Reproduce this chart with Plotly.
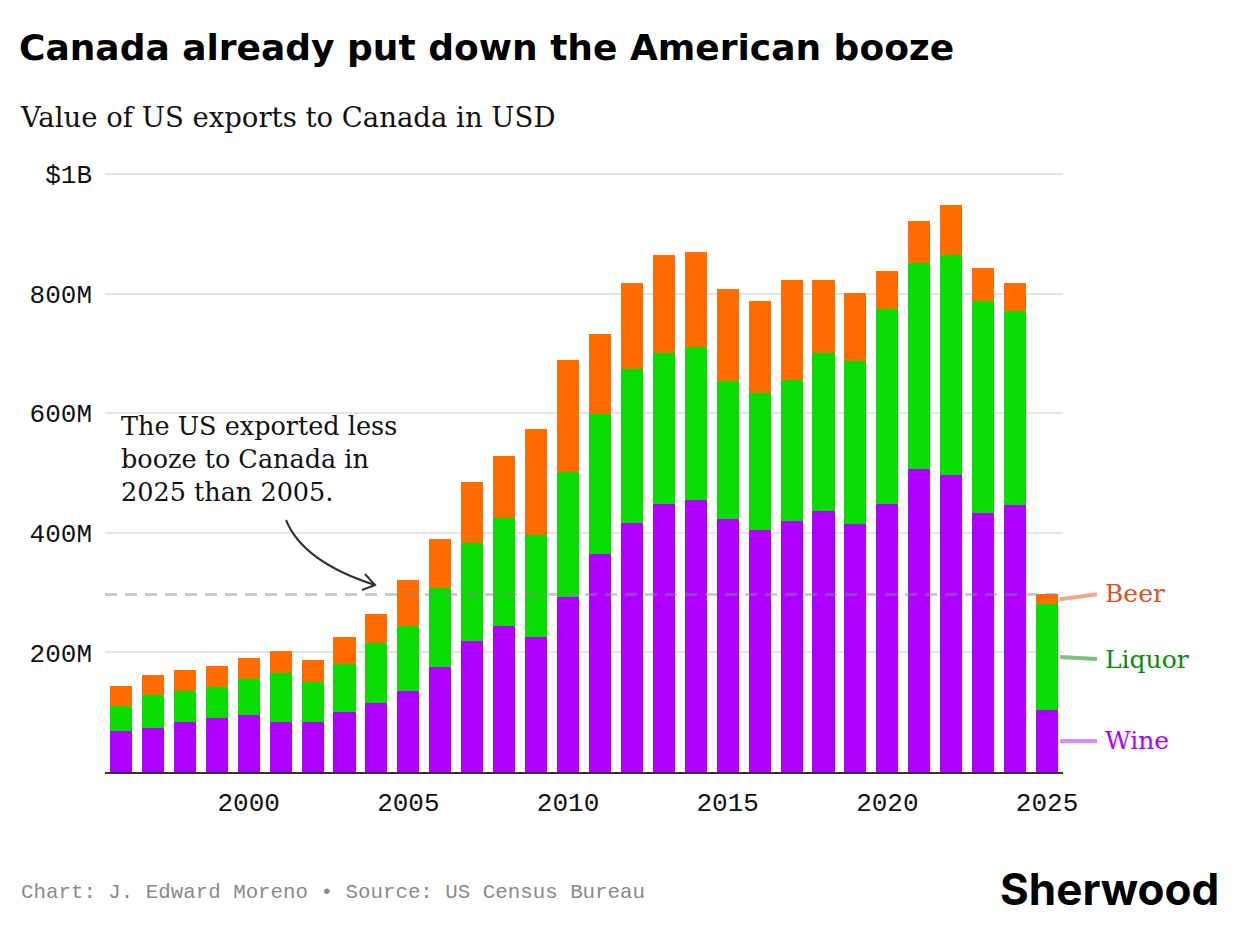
import plotly.graph_objects as go

# Values, in millions of USD
years = list(range(1996, 2026))
wine = [68, 73, 84, 90, 95, 84, 83, 101, 115, 135, 175, 219, 244, 225, 292,
        365, 416, 449, 455, 423, 405, 420, 436, 415, 449, 507, 497, 433, 446, 104]
liquor = [43, 55, 51, 52, 60, 81, 67, 79, 100, 109, 132, 164, 181, 171, 210,
          234, 258, 252, 255, 231, 228, 236, 265, 273, 326, 345, 368, 354, 325, 177]
beer = [32, 35, 35, 36, 35, 37, 38, 45, 49, 77, 82, 102, 104, 178, 187,
        134, 144, 164, 160, 154, 155, 167, 122, 113, 63, 70, 84, 55, 47, 16]

y_ticks = [200, 400, 600, 800, 1000]
y_labels = ['200M', '400M', '600M', '800M', '$1B']
x_ticks = [2000, 2005, 2010, 2015, 2020, 2025]

purple = '#ad00ff'
green = '#08dc00'
orange = '#ff6d00'

# page body has an 8px margin, so the figure is drawn 8px in from the window corner
O = 8
W, H = 1240 - O, 928 - O
# plot box in window pixels
L, R, T, B = 105, 1063, 160, 772
X0, X1 = 1995.5, 2025.5
Y0 = 0
Y1 = 1000 * (B - T) / (B - 174)   # $1B gridline sits at y=174

mono = 'Liberation Mono'
serif = 'DejaVu Serif'


def dx(px):
    return X0 + (px - L) / (R - L) * (X1 - X0)


def dy(py):
    return Y0 + (B - py) / (B - T) * (Y1 - Y0)


def paper_x(px):
    return (px - L) / (R - L)


def paper_y(py):
    return (B - py) / (B - T)


fig = go.Figure()
for name, vals, col in [('Wine', wine, purple), ('Liquor', liquor, green), ('Beer', beer, orange)]:
    fig.add_trace(go.Bar(x=years, y=vals, name=name, marker_color=col,
                         marker_line_width=0, width=0.69))

total_2025 = wine[-1] + liquor[-1] + beer[-1]
wine_mid = wine[-1] / 2
liquor_mid = wine[-1] + liquor[-1] / 2
beer_mid = wine[-1] + liquor[-1] + beer[-1] / 2

shapes = [
    # reference line at the 2025 total
    dict(type='line', xref='x', yref='y', x0=X0, x1=X1, y0=total_2025, y1=total_2025,
         line=dict(color='rgba(140,140,140,0.45)', width=3, dash='12px,8px'), layer='above'),
    # curved arrow
    dict(type='path', xref='x', yref='y',
         path='M %f,%f Q %f,%f %f,%f' % (dx(286), dy(520), dx(303), dy(562), dx(375), dy(585)),
         line=dict(color='#333333', width=2)),
    dict(type='path', xref='x', yref='y',
         path='M %f,%f L %f,%f L %f,%f' % (dx(365), dy(574), dx(375), dy(585), dx(362), dy(590)),
         line=dict(color='#333333', width=2)),
]

label_specs = [
    ('Beer', beer_mid, beer_mid + 9, '#d9531e', 'rgba(230,110,50,0.6)'),
    ('Liquor', liquor_mid, liquor_mid - 4, '#0a8a0a', 'rgba(20,140,20,0.55)'),
    ('Wine', wine_mid, wine_mid, purple, 'rgba(173,0,255,0.45)'),
]
annotations = []
for text, y_start, y_end, col, line_col in label_specs:
    shapes.append(dict(type='line', xref='paper', yref='y', x0=paper_x(1060), x1=paper_x(1097),
                       y0=y_start, y1=y_end - (y_end - y_start) * 0.1,
                       line=dict(color=line_col, width=4)))
    annotations.append(dict(text=text, xref='paper', yref='y', x=paper_x(1103), y=y_end,
                            xanchor='left', yanchor='middle', showarrow=False,
                            font=dict(family=serif, size=25, color=col)))

annotations += [
    dict(text='The US exported less<br>booze to Canada in<br>2025 than 2005.',
         xref='x', yref='y', x=dx(119), y=dy(409), xanchor='left', yanchor='top',
         align='left', showarrow=False,
         font=dict(family=serif, size=25.5, color='#111111')),
    dict(text='Value of US exports to Canada in USD', xref='paper', yref='paper',
         x=paper_x(18), y=paper_y(117), xanchor='left', yanchor='middle', showarrow=False,
         font=dict(family=serif, size=27.5, color='#111111')),
    dict(text='Chart: J. Edward Moreno \u2022 Source: US Census Bureau', xref='paper', yref='paper',
         x=paper_x(19), y=paper_y(892), xanchor='left', yanchor='middle', showarrow=False,
         font=dict(family=mono, size=20.8, color='#8a8a8a')),
    dict(text='<b>Sherwood</b>', xref='paper', yref='paper',
         x=paper_x(1221), y=paper_y(889), xanchor='right', yanchor='middle', showarrow=False,
         font=dict(family='Inter', size=44, color='#000000', weight=900)),
]

fig.update_layout(
    width=W, height=H,
    margin=dict(l=L - O, r=1240 - R, t=T - O, b=928 - B, pad=0),
    paper_bgcolor='white', plot_bgcolor='white',
    barmode='stack', showlegend=False,
    title=dict(text='Canada already put down the American booze',
               xref='container', yref='container', x=(19 - O) / W, y=1 - (47 - O) / H,
               xanchor='left', yanchor='middle',
               font=dict(family='DejaVu Sans', size=36, color='#000000', weight=700)),
    xaxis=dict(range=[X0, X1], tickvals=x_ticks, showgrid=False, zeroline=False,
               showline=True, linecolor='#333333', linewidth=2, ticks='',
               tickfont=dict(family=mono, size=26, color='#111111'), ticklabelstandoff=6),
    yaxis=dict(range=[Y0, Y1], tickvals=y_ticks, ticktext=y_labels, showgrid=True,
               gridcolor='#e5e5e5', gridwidth=2, zeroline=False, showline=False, ticks='',
               tickfont=dict(family=mono, size=26, color='#111111'), ticklabelstandoff=12),
    shapes=shapes,
    annotations=annotations,
)

fig.write_html('out.html')
